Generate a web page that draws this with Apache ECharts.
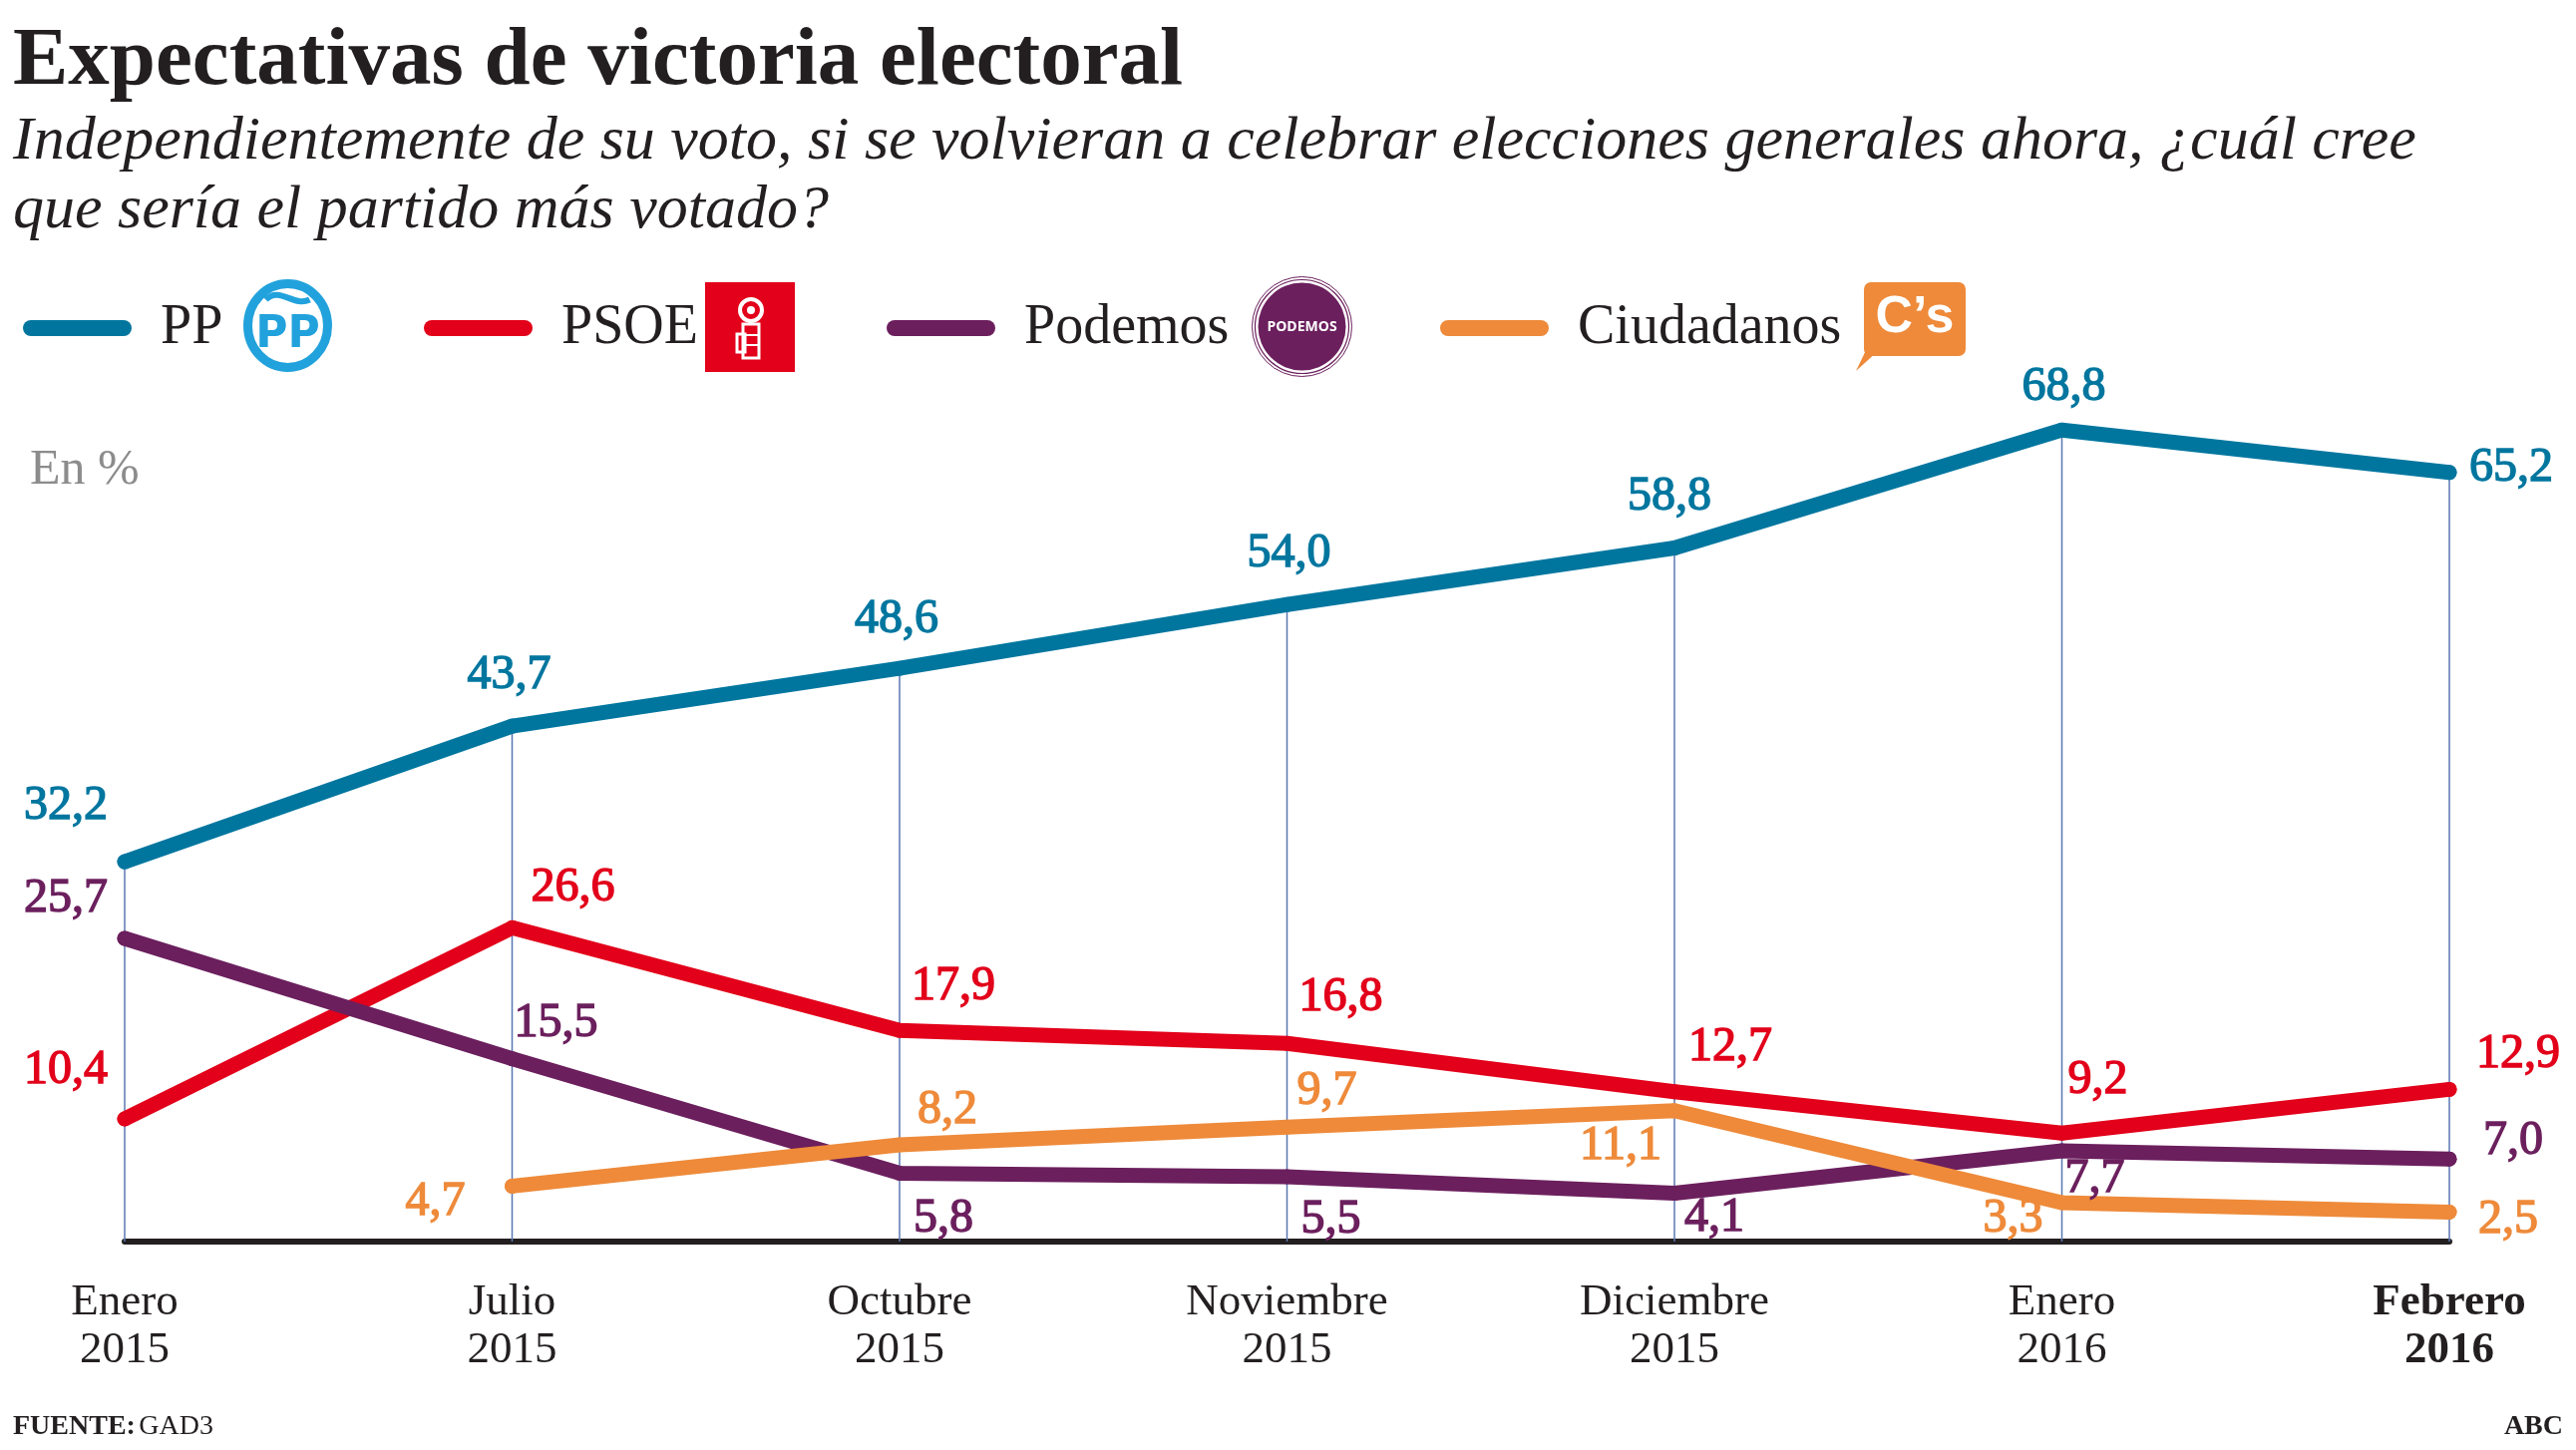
<!DOCTYPE html>
<html>
<head>
<meta charset="utf-8">
<script src="https://cdn.jsdelivr.net/npm/echarts@6/dist/echarts.min.js"></script>
<style>
html,body{margin:0;padding:0;background:#fff;}
#chart{width:2583px;height:1454px;}
</style>
</head>
<body>
<div id="chart"></div>
<script>
// ---- data ----
const categories = ['Enero\n2015','Julio\n2015','Octubre\n2015','Noviembre\n2015','Diciembre\n2015','Enero\n2016','Febrero\n2016'];
const seriesNames = ['PP','PSOE','Podemos','Ciudadanos'];
const ppValues = [32.2, 43.7, 48.6, 54.0, 58.8, 68.8, 65.2];
const psoeValues = [10.4, 26.6, 17.9, 16.8, 12.7, 9.2, 12.9];
const podemosValues = [25.7, 15.5, 5.8, 5.5, 4.1, 7.7, 7.0];
const ciudadanosValues = [null, 4.7, 8.2, 9.7, 11.1, 3.3, 2.5];

// ---- styles (label placement offsets in px, relative to each point) ----
const colors = {PP:'#00769f', PSOE:'#e2001a', Podemos:'#6b1f5d', Ciudadanos:'#ee8a3a'};
const ppOffsets = [[-59,-56],[-3,-51],[-3,-49],[2,-51],[-5,-51],[2,-43],[62,-4]];
const psoeOffsets = [[-59,-49],[61,-40],[54,-44],[54,-46],[56,-44],[36,-53],[69,-35]];
const podemosOffsets = [[-59,-40],[44,-35],[44,46],[44,43],[40,25],[33,28],[64,-18]];
const ciudadanosOffsets = [null,[-77,16],[48,-35],[40,-36],[-54,36],[-49,16],[59,8]];

const SERIF = '"Liberation Serif", "Times New Roman", serif';
const fmt = v => v.toFixed(1).replace('.', ',');

function buildData(values, offsets){
  return values.map((v,i) => {
    if (v === null) return null;
    return {value: v, label: {offset: offsets[i]}};
  });
}

function lineSeries(name, values, offsets){
  const c = colors[name];
  return {
    name: name,
    type: 'line',
    data: buildData(values, offsets),
    symbol: 'circle',
    symbolSize: 15,
    showSymbol: true,
    connectNulls: false,
    itemStyle: {color: c, borderWidth: 0},
    lineStyle: {color: c, width: 15, cap: 'round', join: 'round'},
    label: {
      show: true,
      position: 'inside',
      align: 'center',
      verticalAlign: 'middle',
      color: c,
      fontFamily: SERIF,
      fontSize: 48,
      textBorderColor: c,
      textBorderWidth: 1.4,
      formatter: p => fmt(p.value)
    },
    emphasis: {disabled: true},
    z: 3
  };
}

const legendLefts = [23, 425, 889, 1444];
const legendIcon = 'path://M8,0 L101,0 A8,8 0 0 1 101,16 L8,16 A8,8 0 0 1 8,0 Z';
const legends = seriesNames.map((n, i) => ({
  data: [n],
  left: legendLefts[i],
  top: 299,
  padding: 0,
  itemWidth: 109,
  itemHeight: 16,
  icon: legendIcon,
  selectedMode: false,
  textStyle: {fontFamily: SERIF, fontSize: 56, lineHeight: 60, color: '#231f20', padding: [0,0,0,24]}
}));

const chart = echarts.init(document.getElementById('chart'));
chart.setOption({
  backgroundColor: '#ffffff',
  animation: false,
  legend: legends,
  grid: {left: 125, right: 127, top: 417, bottom: 209, containLabel: false},
  xAxis: {
    type: 'category',
    data: categories,
    boundaryGap: false,
    axisLine: {show: true, lineStyle: {color: '#231f20', width: 6}},
    axisTick: {show: false},
    splitLine: {show: false},
    axisLabel: {
      margin: 37,
      fontFamily: SERIF,
      fontSize: 45,
      lineHeight: 48,
      color: '#231f20',
      interval: 0,
      formatter: (val, idx) => idx === categories.length - 1 ? '{b|' + val.split('\n').join('}\n{b|') + '}' : val,
      rich: {b: {fontFamily: SERIF, fontSize: 45, lineHeight: 48, fontWeight: 'bold', color: '#231f20'}}
    }
  },
  yAxis: {
    type: 'value', min: 0, max: 70, show: false,
    splitLine: {show: false}
  },
  series: [
    {
      name: 'guides',
      type: 'bar',
      data: ppValues,
      barWidth: 1.5,
      silent: true,
      itemStyle: {color: '#5a77b2'},
      z: 1,
      legendHoverLink: false
    },
    lineSeries('PP', ppValues, ppOffsets),
    lineSeries('PSOE', psoeValues, psoeOffsets),
    lineSeries('Podemos', podemosValues, podemosOffsets),
    lineSeries('Ciudadanos', ciudadanosValues, ciudadanosOffsets)
  ],
  graphic: [
    {type: 'text', left: 13, top: 21, style: {text: 'Expectativas de victoria electoral', font: 'bold 83px ' + SERIF, fill: '#231f20'}},
    {type: 'text', left: 13, top: 108, style: {text: 'Independientemente de su voto, si se volvieran a celebrar elecciones generales ahora, ¿cuál cree\nque sería el partido más votado?', font: 'italic 62px ' + SERIF, lineHeight: 69, fill: '#231f20'}},
    {type: 'text', left: 30, top: 447, style: {text: 'En %', font: '50px ' + SERIF, fill: '#8c8c8c'}},
    {type: 'text', left: 13, top: 1417, style: {text: '{f|FUENTE:} {g|GAD3}', rich: {f: {fontFamily: SERIF, fontSize: 28, fontWeight: 'bold', fill: '#231f20'}, g: {fontFamily: SERIF, fontSize: 28, fill: '#231f20'}}}},
    {type: 'text', right: 13, top: 1417, style: {text: 'ABC', font: 'bold 28px ' + SERIF, fill: '#231f20'}},
    // PP logo
    {type: 'group', left: 244, top: 280, children: [
      {type: 'ellipse', shape: {cx: 44, cy: 46, rx: 40, ry: 42}, style: {fill: '#ffffff', stroke: '#22a2dc', lineWidth: 9}},
      {type: 'bezierCurve', shape: {x1: 22, y1: 20, x2: 66, y2: 20, cpx1: 36, cpy1: 6, cpx2: 50, cpy2: 28}, style: {stroke: '#22a2dc', lineWidth: 6, fill: null}},
      {type: 'text', style: {x: 44, y: 56, text: 'PP', font: 'bold 44px "DejaVu Sans", sans-serif', fill: '#22a2dc', align: 'center', verticalAlign: 'middle'}}
    ]},
    // PSOE logo
    {type: 'group', left: 707, top: 283, children: [
      {type: 'rect', shape: {x: 0, y: 0, width: 90, height: 90}, style: {fill: '#e2001a'}},
      {type: 'circle', shape: {cx: 46, cy: 28, r: 11}, style: {fill: 'none', stroke: '#ffffff', lineWidth: 4}},
      {type: 'circle', shape: {cx: 46, cy: 28, r: 4}, style: {fill: '#ffffff'}},
      {type: 'rect', shape: {x: 38, y: 42, width: 16, height: 34}, style: {fill: 'none', stroke: '#ffffff', lineWidth: 3}},
      {type: 'rect', shape: {x: 32, y: 52, width: 8, height: 18}, style: {fill: 'none', stroke: '#ffffff', lineWidth: 3}},
      {type: 'line', shape: {x1: 40, y1: 53, x2: 54, y2: 53}, style: {stroke: '#ffffff', lineWidth: 2}},
      {type: 'line', shape: {x1: 40, y1: 63, x2: 54, y2: 63}, style: {stroke: '#ffffff', lineWidth: 2}}
    ]},
    // Podemos logo
    {type: 'group', left: 1253, top: 275, children: [
      {type: 'circle', shape: {cx: 51, cy: 51, r: 50}, style: {fill: 'none', stroke: '#6b1f5d', lineWidth: 1}},
      {type: 'circle', shape: {cx: 51, cy: 51, r: 47}, style: {fill: 'none', stroke: '#6b1f5d', lineWidth: 1.2}},
      {type: 'circle', shape: {cx: 51, cy: 51, r: 44}, style: {fill: '#6b1f5d'}},
      {type: 'text', style: {x: 51, y: 52, text: 'PODEMOS', font: 'bold 14px "Open Sans", sans-serif', fill: '#ffffff', align: 'center', verticalAlign: 'middle'}}
    ]},
    // Ciudadanos logo
    {type: 'group', left: 1861, top: 283, children: [
      {type: 'polygon', shape: {points: [[14, 60], [32, 60], [0, 89]]}, style: {fill: '#ee8a3a'}},
      {type: 'rect', shape: {x: 8, y: 0, width: 102, height: 74, r: 7}, style: {fill: '#ee8a3a'}},
      {type: 'text', style: {x: 59, y: 36, text: 'C\u2019s', font: 'bold 52px "Liberation Sans", "Arial", sans-serif', fill: '#ffffff', align: 'center', verticalAlign: 'middle'}}
    ]}
  ]
});
</script>
</body>
</html>
